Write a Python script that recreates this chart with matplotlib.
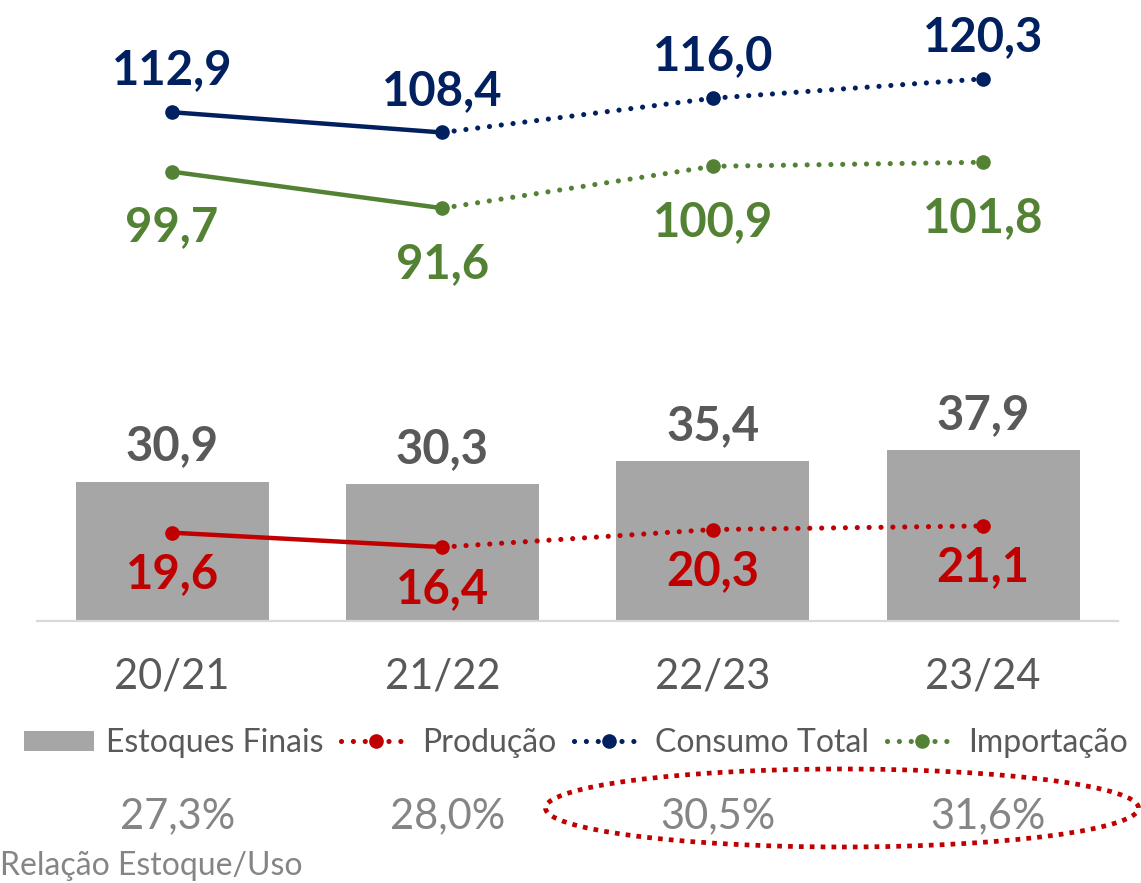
import matplotlib
matplotlib.use("Agg")
import matplotlib.pyplot as plt
from matplotlib.patches import Patch, Ellipse
from matplotlib.lines import Line2D
from matplotlib.transforms import blended_transform_factory

plt.rcParams['font.family'] = ['Lato', 'DejaVu Sans']

# ---- data ----
categories = ["20/21", "21/22", "22/23", "23/24"]
estoques = [30.9, 30.3, 35.4, 37.9]
producao = [19.6, 16.4, 20.3, 21.1]
consumo = [112.9, 108.4, 116.0, 120.3]
importacao = [99.7, 91.6, 100.9, 101.8]
relacao = ["27,3%", "28,0%", "30,5%", "31,6%"]
legend_labels = ["Estoques Finais", "Produção", "Consumo Total", "Importação"]
footer_label = "Relação Estoque/Uso"

C_BAR = "#A6A6A6"
C_RED = "#C00000"
C_NAVY = "#002060"
C_GREEN = "#548235"
C_TXT = "#595959"
C_PCT = "#858585"

def fmt(v):
    return f"{v:.1f}".replace(".", ",")

fig = plt.figure(figsize=(11.41, 8.83), dpi=100)
ax = fig.add_axes([0.0323, 0.2967, 0.9477, 0.7033])
x = list(range(len(categories)))

ax.bar(x, estoques, width=0.714, color=C_BAR, zorder=1)

DOT = (0, (0.01, 2.3))
LW_DOT = 3.7
LW_SOLID = 3.2
MS = 9.5

def series(vals, color):
    ax.plot(x[:2], vals[:2], color=color, lw=LW_SOLID, solid_capstyle='round', zorder=3, clip_on=False)
    ax.plot(x[1:], vals[1:], color=color, lw=LW_DOT, linestyle=DOT, dash_capstyle='round', zorder=3, clip_on=False)
    ax.plot(x, vals, linestyle='none', marker='o', ms=MS, color=color, zorder=4, clip_on=False)

series(producao, C_RED)
series(consumo, C_NAVY)
series(importacao, C_GREEN)

FS_NUM = 34
for xi, v in zip(x, estoques):
    ax.annotate(fmt(v), (xi, v), xytext=(0, 15.5), textcoords='offset points', ha='center', va='baseline',
                fontsize=FS_NUM, fontweight='bold', color=C_TXT)
for xi, v in zip(x, producao):
    ax.annotate(fmt(v), (xi, v), xytext=(0, -40), textcoords='offset points', ha='center', va='baseline',
                fontsize=FS_NUM, fontweight='bold', color=C_RED)
for xi, v in zip(x, consumo):
    ax.annotate(fmt(v), (xi, v), xytext=(0, 20), textcoords='offset points', ha='center', va='baseline',
                fontsize=FS_NUM, fontweight='bold', color=C_NAVY)
for xi, v in zip(x, importacao):
    ax.annotate(fmt(v), (xi, v), xytext=(0, -50), textcoords='offset points', ha='center', va='baseline',
                fontsize=FS_NUM, fontweight='bold', color=C_GREEN)

ax.set_xlim(-0.5, 3.5)
ax.set_ylim(0, 137.8)
ax.set_xticks(x)
ax.set_xticklabels(categories, fontsize=30, color=C_TXT)
ax.tick_params(axis='x', length=0, pad=26)
ax.set_yticks([])
for s in ['top', 'right', 'left']:
    ax.spines[s].set_visible(False)
ax.spines['bottom'].set_color('#D9D9D9')
ax.spines['bottom'].set_linewidth(1.6)

# legend
handles = [
    Patch(facecolor=C_BAR, edgecolor='none'),
    Line2D([], [], color=C_RED, lw=LW_DOT, linestyle=DOT, dash_capstyle='round', marker='o', ms=MS),
    Line2D([], [], color=C_NAVY, lw=LW_DOT, linestyle=DOT, dash_capstyle='round', marker='o', ms=MS),
    Line2D([], [], color=C_GREEN, lw=LW_DOT, linestyle=DOT, dash_capstyle='round', marker='o', ms=MS),
]
leg = fig.legend(handles, legend_labels, loc='center', bbox_to_anchor=(0.505, 1 - 743 / 883),
                 ncol=4, frameon=False, fontsize=23, handlelength=2.2, handleheight=0.6,
                 handletextpad=0.35, columnspacing=0.55, numpoints=1, borderpad=0, borderaxespad=0)
for t in leg.get_texts():
    t.set_color(C_TXT)

# ratio row
trans = blended_transform_factory(ax.transData, fig.transFigure)
for xi, r in zip(x, relacao):
    ax.text(xi + 0.02, 1 - 828 / 883, r, transform=trans, ha='center', va='baseline',
            fontsize=30, color=C_PCT)

fig.text(0.0, 1 - 875 / 883, footer_label, ha='left', va='baseline', fontsize=23, color=C_PCT)

ell = Ellipse((842 / 1141, 1 - 808 / 883), 593 / 1141, 78 / 883, transform=fig.transFigure,
              fill=False, edgecolor=C_RED, lw=3.4, linestyle=(0, (1, 1.3)))
ell.set_capstyle('butt')
fig.add_artist(ell)

fig.savefig("out.png", dpi=100)
